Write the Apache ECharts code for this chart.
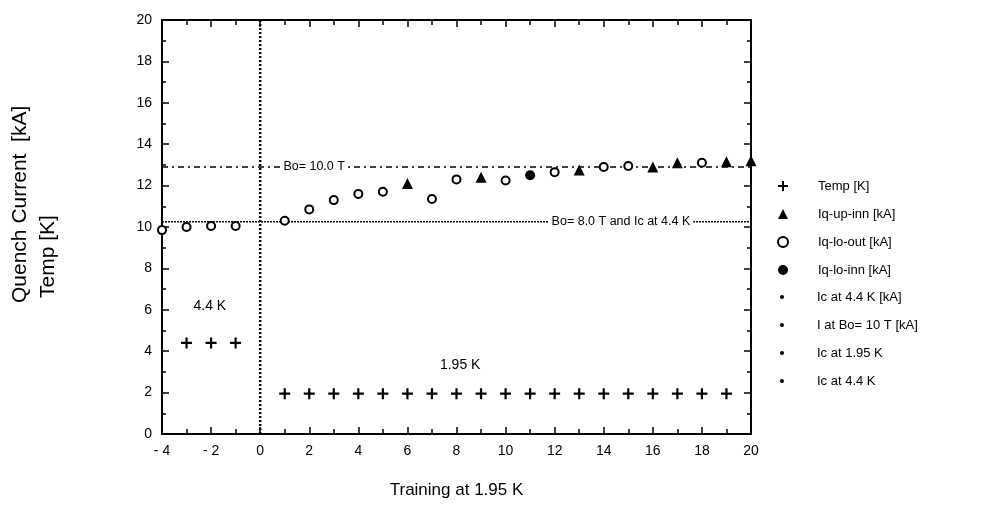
<!DOCTYPE html>
<html>
<head>
<meta charset="utf-8">
<script src="https://cdn.jsdelivr.net/npm/echarts@6/dist/echarts.min.js"></script>
<style>
  html, body { margin: 0; padding: 0; background: #fff; }
  #chart { width: 985px; height: 513px; }
</style>
</head>
<body>
<div id="chart"></div>
<script>
// Training run number (negative = runs at 4.4 K, positive = runs at 1.95 K)
const tempRuns = [-3, -2, -1, 1, 2, 3, 4, 5, 6, 7, 8, 9, 10, 11, 12, 13, 14, 15, 16, 17, 18, 19];
const tempK    = [4.4, 4.4, 4.4, 1.95, 1.95, 1.95, 1.95, 1.95, 1.95, 1.95, 1.95, 1.95, 1.95, 1.95, 1.95, 1.95, 1.95, 1.95, 1.95, 1.95, 1.95, 1.95];

const upInnRuns = [6, 9, 13, 16, 17, 19, 20];
const upInnKA   = [12.1, 12.4, 12.75, 12.9, 13.1, 13.15, 13.2];

const loOutRuns = [-4, -3, -2, -1, 1, 2, 3, 4, 5, 7, 8, 10, 12, 14, 15, 18];
const loOutKA   = [9.85, 10.0, 10.05, 10.05, 10.3, 10.85, 11.3, 11.6, 11.7, 11.35, 12.3, 12.25, 12.65, 12.9, 12.95, 13.1];

const loInnRuns = [11];
const loInnKA   = [12.5];

// Reference levels
const ic44Level  = 10.25;   // Bo = 8.0 T and Ic at 4.4 K
const bo10Level  = 12.9;    // Bo = 10.0 T
const runSpan    = [-4, 20];
const switchRun  = 0;       // change from 4.4 K to 1.95 K
const kSpan      = [0, 20];

// Text placed on the plot (run, value, text)
const lineTags = [[2.2, bo10Level, 'Bo= 10.0 T'], [14.7, ic44Level, 'Bo= 8.0 T and Ic at 4.4 K']];
const tempTags = [[-2.05, 6.2, '4.4 K'], [8.15, 3.35, '1.95 K']];

const legendTop = ['Temp [K]', 'Iq-up-inn [kA]', 'Iq-lo-out [kA]', 'Iq-lo-inn [kA]'];
const legendBottom = ['Ic at 4.4 K [kA]', 'I at Bo= 10 T [kA]', 'Ic at 1.95 K', 'Ic at 4.4 K'];

const zip = (xs, ys) => xs.map((x, i) => [x, ys[i]]);
const PLUS = 'path://M4,0H6V4H10V6H6V10H4V6H0V4H4Z';
const FONT = 'Liberation Sans';
const INK = '#000';

const chart = echarts.init(document.getElementById('chart'));

const baseX = {
  type: 'value', min: runSpan[0], max: runSpan[1], interval: 2,
  axisLine: { show: true, onZero: false, lineStyle: { color: INK, width: 2 } },
  axisTick: { show: true, inside: true, length: 7, lineStyle: { color: INK, width: 1.5 } },
  minorTick: { show: true, splitNumber: 2, length: 5, lineStyle: { color: INK, width: 1.5 } },
  splitLine: { show: false }
};
const baseY = {
  type: 'value', min: kSpan[0], max: kSpan[1], interval: 2,
  axisLine: { show: true, onZero: false, lineStyle: { color: INK, width: 2 } },
  axisTick: { show: true, inside: true, length: 7, lineStyle: { color: INK, width: 1.5 } },
  minorTick: { show: true, splitNumber: 2, length: 4, lineStyle: { color: INK, width: 1.5 } },
  splitLine: { show: false }
};
const legendText = pad => ({ fontSize: 13, color: INK, fontFamily: FONT, lineHeight: 16, padding: [0, 0, 0, pad] });

chart.setOption({
  animation: false,
  backgroundColor: '#fff',
  textStyle: { fontFamily: FONT, color: INK },
  grid: { left: 162, right: 234, top: 20, bottom: 79 },
  xAxis: [
    Object.assign({}, baseX, {
      position: 'bottom',
      axisLabel: { color: INK, fontSize: 14, margin: 10, fontFamily: FONT,
        formatter: v => (v < 0 ? '- ' + Math.abs(v) : String(v)) },
      name: 'Training at 1.95 K', nameLocation: 'middle', nameGap: 48,
      nameTextStyle: { color: INK, fontSize: 17, fontFamily: FONT }
    }),
    Object.assign({}, baseX, { position: 'top', axisLabel: { show: false } })
  ],
  yAxis: [
    Object.assign({}, baseY, {
      position: 'left',
      axisLabel: { color: INK, fontSize: 14, margin: 10, fontFamily: FONT }
    }),
    Object.assign({}, baseY, { position: 'right', axisLabel: { show: false } })
  ],
  legend: [
    {
      orient: 'vertical', left: 772, top: 173, itemWidth: 10, itemHeight: 10, itemGap: 12,
      textStyle: legendText(25), selectedMode: false,
      data: [
        { name: legendTop[0], icon: PLUS },
        { name: legendTop[1], icon: 'triangle' },
        { name: legendTop[2], icon: 'emptyCircle', itemStyle: { borderWidth: 2 } },
        { name: legendTop[3], icon: 'circle' }
      ]
    },
    {
      orient: 'vertical', left: 775, top: 284, itemWidth: 4, itemHeight: 4, itemGap: 12,
      textStyle: legendText(28), selectedMode: false,
      data: legendBottom.map(n => ({ name: n, icon: 'circle' }))
    }
  ],
  series: [
    {
      name: legendTop[0], type: 'scatter', symbol: PLUS, symbolSize: 11,
      itemStyle: { color: INK, opacity: 1 }, data: zip(tempRuns, tempK), z: 5
    },
    {
      name: legendTop[1], type: 'scatter', symbol: 'triangle', symbolSize: 11,
      itemStyle: { color: INK, opacity: 1 }, data: zip(upInnRuns, upInnKA), z: 5
    },
    {
      name: legendTop[2], type: 'scatter', symbol: 'emptyCircle', symbolSize: 8,
      itemStyle: { color: INK, borderColor: INK, borderWidth: 2, opacity: 1 }, data: zip(loOutRuns, loOutKA), z: 5
    },
    {
      name: legendTop[3], type: 'scatter', symbol: 'circle', symbolSize: 10,
      itemStyle: { color: INK, opacity: 1 }, data: zip(loInnRuns, loInnKA), z: 5
    },
    {
      name: legendBottom[0], type: 'line', showSymbol: false, symbol: 'none',
      itemStyle: { color: INK },
      lineStyle: { color: INK, width: 1.5, type: [2, 1] },
      data: runSpan.map(r => [r, ic44Level]), z: 3
    },
    {
      name: legendBottom[1], type: 'line', showSymbol: false, symbol: 'none',
      itemStyle: { color: INK },
      lineStyle: { color: INK, width: 1.5, type: [6, 4, 2, 4] },
      data: runSpan.map(r => [r, bo10Level]), z: 3
    },
    {
      name: legendBottom[2], type: 'line', showSymbol: false, symbol: 'none',
      itemStyle: { color: INK }, data: []
    },
    {
      name: legendBottom[3], type: 'line', showSymbol: false, symbol: 'none',
      itemStyle: { color: INK },
      lineStyle: { color: INK, width: 2.5, type: [2, 2] },
      data: kSpan.map(k => [switchRun, k]), z: 3
    },
    {
      type: 'scatter', symbolSize: 0, silent: true, z: 4,
      itemStyle: { opacity: 1 },
      data: lineTags,
      label: {
        show: true, position: 'inside', formatter: p => p.data[2],
        color: INK, fontSize: 12.5, fontFamily: FONT,
        backgroundColor: '#fff', padding: [1, 3]
      }
    },
    {
      type: 'scatter', symbolSize: 0, silent: true, z: 4,
      itemStyle: { opacity: 1 },
      data: tempTags,
      label: {
        show: true, position: 'inside', formatter: p => p.data[2],
        color: INK, fontSize: 14, fontFamily: FONT
      }
    }
  ],
  graphic: [
    {
      type: 'text', x: 20, y: 303, rotation: Math.PI / 2,
      style: { text: 'Quench Current  [kA]', font: '21px "Liberation Sans"', fill: INK,
        textAlign: 'left', textVerticalAlign: 'middle' }
    },
    {
      type: 'text', x: 48, y: 298, rotation: Math.PI / 2,
      style: { text: 'Temp [K]', font: '21px "Liberation Sans"', fill: INK,
        textAlign: 'left', textVerticalAlign: 'middle' }
    }
  ]
});
</script>
</body>
</html>
